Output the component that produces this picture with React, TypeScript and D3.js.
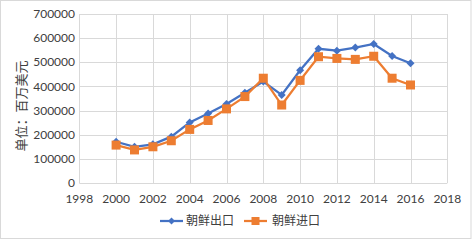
import React from "react";
import * as d3 from "d3";

const years = [2000, 2001, 2002, 2003, 2004, 2005, 2006, 2007, 2008, 2009, 2010, 2011, 2012, 2013, 2014, 2015, 2016];
const exportVals = [171000, 150000, 160000, 192000, 251000, 288000, 327000, 374000, 420000, 365000, 467000, 556000, 548000, 561000, 576000, 526000, 496000];
const importVals = [157000, 137000, 150000, 175000, 222000, 259000, 307000, 358000, 434000, 323000, 425000, 523000, 516000, 512000, 525000, 434000, 406000];
const xTicks = [1998, 2000, 2002, 2004, 2006, 2008, 2010, 2012, 2014, 2016, 2018];
const yTicks = [0, 100000, 200000, 300000, 400000, 500000, 600000, 700000];
const seriesNames = ["朝鲜出口", "朝鲜进口"];
const yTitle = "单位：百万美元";

const W = 472, H = 240;
const BLUE = "#4472C4", ORANGE = "#ED7D31", GRID = "#D9D9D9", TEXT = "#404040";
const FONT = "Lato, 'Open Sans', sans-serif";
const CJK = "'Noto Sans CJK SC', sans-serif";

export default function App() {
  const x = d3.scaleLinear().domain([1998, 2018]).range([79.3, 447.3]);
  const y = d3.scaleLinear().domain([0, 700000]).range([183, 14]);
  const line = d3.line<[number, number]>().x(d => x(d[0])).y(d => y(d[1]));
  const expPts: [number, number][] = years.map((yr, i) => [yr, exportVals[i]]);
  const impPts: [number, number][] = years.map((yr, i) => [yr, importVals[i]]);
  const diamond = (cx: number, cy: number, r: number) => `M${cx},${cy - r}L${cx + r},${cy}L${cx},${cy + r}L${cx - r},${cy}Z`;
  const legY = 221;
  return (
    <svg width={W} height={H} style={{ position: "absolute", left: 0, top: 0, background: "#fff" }}>
      <rect x={0.5} y={0.5} width={W - 1.5} height={H - 2} fill="#fff" stroke={GRID} />
      {yTicks.map(t => (
        <g key={"y" + t}>
          <line x1={x(1998)} x2={x(2018)} y1={Math.round(y(t)) + 0.5} y2={Math.round(y(t)) + 0.5} stroke={GRID} />
          <text x={75} y={y(t)} dy="0.35em" textAnchor="end" fontSize={12} fontFamily={FONT} fill={TEXT}>{t}</text>
        </g>
      ))}
      {xTicks.map(t => (
        <g key={"x" + t}>
          <line x1={Math.round(x(t)) + 0.5} x2={Math.round(x(t)) + 0.5} y1={y(700000)} y2={y(0)} stroke={GRID} />
          <text x={x(t)} y={202.5} textAnchor="middle" fontSize={12} fontFamily={FONT} fill={TEXT}>{t}</text>
        </g>
      ))}
      <text transform={`translate(26,106) rotate(-90)`} textAnchor="middle" fontSize={13} fontFamily={CJK} fill={TEXT}>{yTitle}</text>
      <path d={line(expPts) || ""} fill="none" stroke={BLUE} strokeWidth={2.25} />
      <path d={line(impPts) || ""} fill="none" stroke={ORANGE} strokeWidth={2.25} />
      {expPts.map((p, i) => (
        <path key={"e" + i} d={diamond(x(p[0]), y(p[1]), 4)} fill={BLUE} />
      ))}
      {impPts.map((p, i) => (
        <rect key={"i" + i} x={x(p[0]) - 4.5} y={y(p[1]) - 4.5} width={9} height={9} fill={ORANGE} />
      ))}
      <line x1={160} x2={183} y1={legY} y2={legY} stroke={BLUE} strokeWidth={2.25} />
      <path d={diamond(171.5, legY, 3.5)} fill={BLUE} />
      <text x={186} y={legY} dy="0.35em" fontSize={12} fontFamily={CJK} fill={TEXT}>{seriesNames[0]}</text>
      <line x1={244} x2={267} y1={legY} y2={legY} stroke={ORANGE} strokeWidth={2.25} />
      <rect x={251.5} y={legY - 4} width={8} height={8} fill={ORANGE} />
      <text x={272} y={legY} dy="0.35em" fontSize={12} fontFamily={CJK} fill={TEXT}>{seriesNames[1]}</text>
    </svg>
  );
}
